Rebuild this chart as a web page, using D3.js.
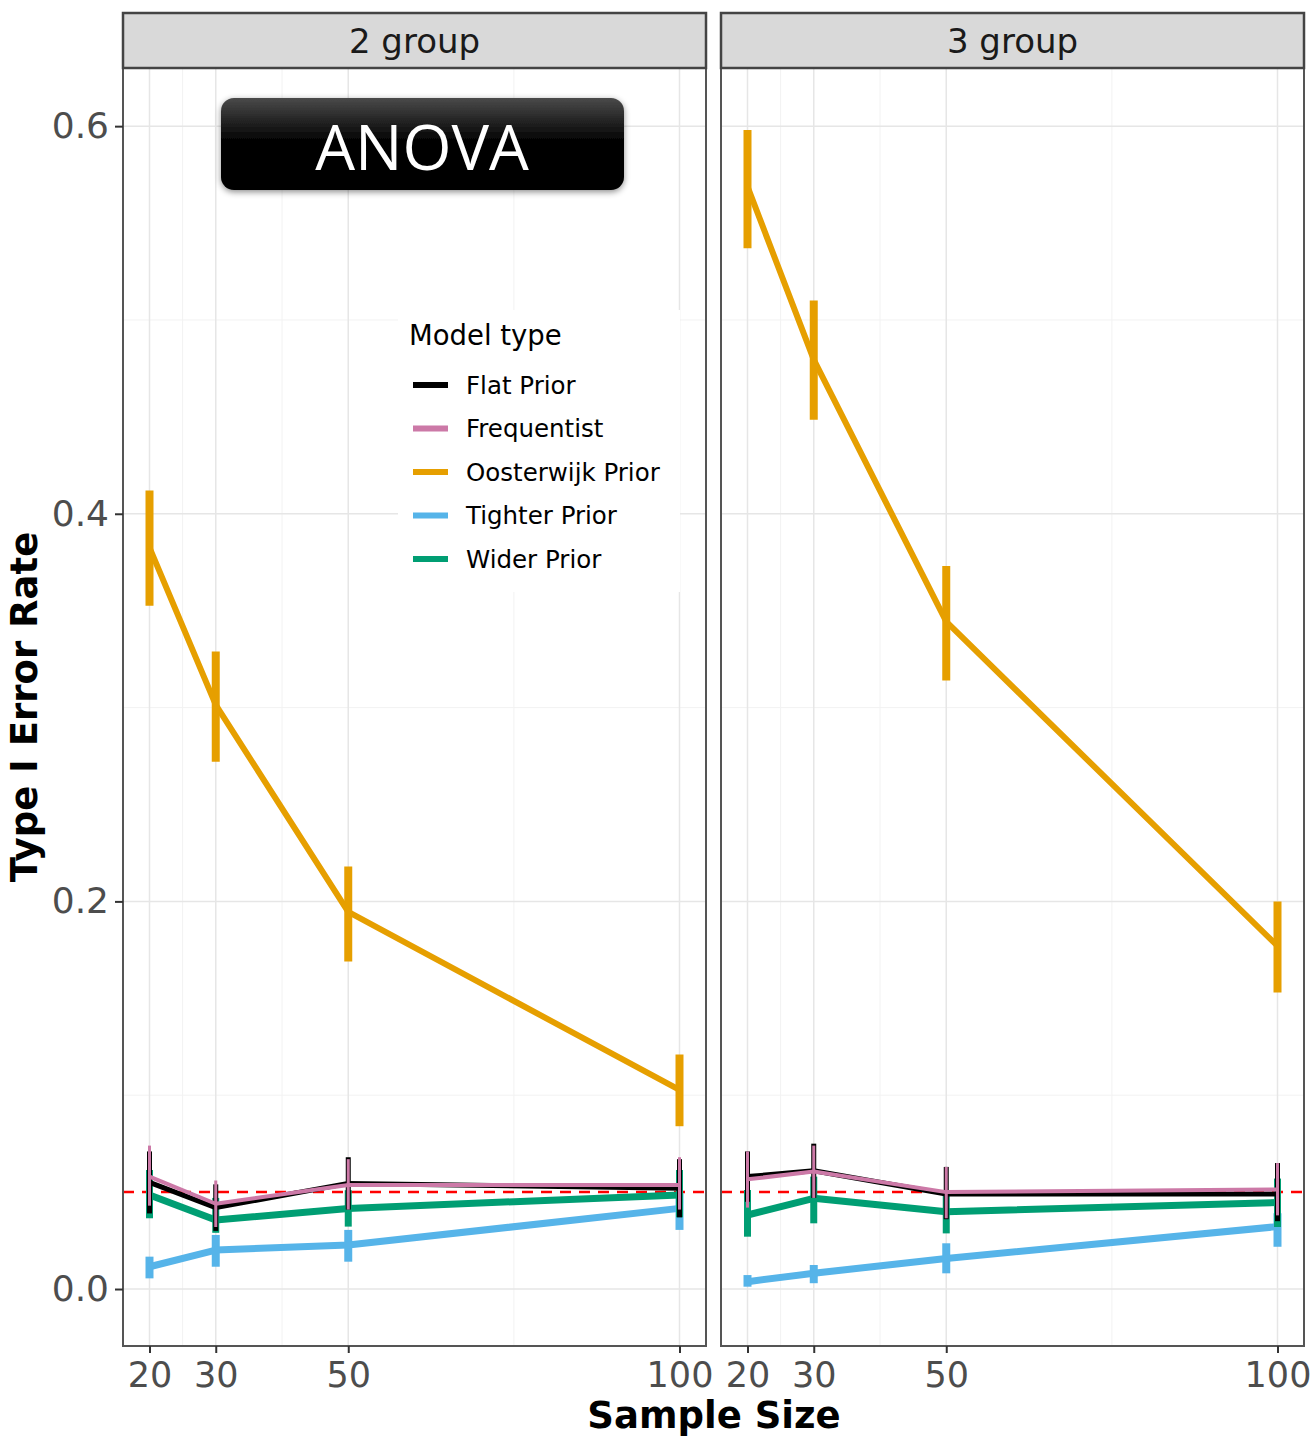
<!DOCTYPE html>
<html>
<head>
<meta charset="utf-8">
<script src="https://cdn.jsdelivr.net/npm/d3@7"></script>
<style>
  body { margin: 0; background: #fff; }
  svg text { font-family: "DejaVu Sans", sans-serif; }
</style>
</head>
<body>
<div id="chart"></div>
<script>
// data
var sampleSizes = [20, 30, 50, 100]
var groups = ["2 group", "3 group"]
var models = ["Flat Prior", "Frequentist", "Oosterwijk Prior", "Tighter Prior", "Wider Prior"]
var modelColors = ["#000000", "#CC79A7", "#E69F00", "#56B4E9", "#009E73"]
var yTicks = [0, 0.2, 0.4, 0.6]
var alphaLevel = 0.05

// each array: [2 group values, 3 group values], by sample size
var flatRate = [[0.055, 0.042, 0.0545, 0.052], [0.058, 0.061, 0.049, 0.049]]
var flatLow  = [[0.039, 0.030, 0.041, 0.037], [0.045, 0.047, 0.036, 0.035]]
var flatHigh = [[0.071, 0.054, 0.068, 0.067], [0.071, 0.075, 0.063, 0.065]]

var freqRate = [[0.058, 0.044, 0.0537, 0.0537], [0.0566, 0.0606, 0.050, 0.0514]]
var freqLow  = [[0.043, 0.032, 0.041, 0.041], [0.042, 0.047, 0.0365, 0.038]]
var freqHigh = [[0.074, 0.056, 0.067, 0.068], [0.071, 0.074, 0.063, 0.065]]

var oostRate = [[0.3825, 0.3014, 0.1946, 0.1027], [0.5688, 0.4795, 0.3443, 0.177]]
var oostLow  = [[0.3525, 0.272, 0.169, 0.084], [0.537, 0.4485, 0.314, 0.153]]
var oostHigh = [[0.412, 0.329, 0.218, 0.121], [0.598, 0.510, 0.373, 0.200]]

var tightRate = [[0.0115, 0.0201, 0.0227, 0.0416], [0.0038, 0.0081, 0.0158, 0.0322]]
var tightLow  = [[0.0055, 0.0115, 0.0141, 0.0305], [0.0012, 0.003, 0.0081, 0.0218]]
var tightHigh = [[0.0167, 0.0279, 0.0305, 0.0494], [0.0072, 0.0124, 0.0236, 0.0391]]

var widerRate = [[0.0485, 0.0356, 0.0416, 0.0485], [0.0382, 0.0468, 0.0399, 0.0446]]
var widerLow  = [[0.0365, 0.029, 0.0322, 0.037], [0.027, 0.0339, 0.0287, 0.032]]
var widerHigh = [[0.0614, 0.047, 0.051, 0.0614], [0.0511, 0.058, 0.0511, 0.057]]

var width = 1315, height = 1438

// series table built from the arrays above
var series = [
  {name: models[0], color: modelColors[0], rate: flatRate, low: flatLow, high: flatHigh, lw: 5, bw: 5},
  {name: models[1], color: modelColors[1], rate: freqRate, low: freqLow, high: freqHigh, lw: 4, bw: 3},
  {name: models[2], color: modelColors[2], rate: oostRate, low: oostLow, high: oostHigh, lw: 6, bw: 8},
  {name: models[3], color: modelColors[3], rate: tightRate, low: tightLow, high: tightHigh, lw: 7, bw: 8},
  {name: models[4], color: modelColors[4], rate: widerRate, low: widerLow, high: widerHigh, lw: 7, bw: 7}
]
// drawing order (later on top)
var drawOrder = [2, 3, 4, 0, 1]

var svg = d3.select("#chart").append("svg")
  .attr("width", width)
  .attr("height", height)

// panel geometry
var panelTop = 68, panelBottom = 1346, stripTop = 13
var panelX = [[123, 706], [721, 1304]]

var y = d3.scaleLinear().domain([-0.0294, 0.63]).range([panelBottom, panelTop])
var yMinor = [0.1, 0.3, 0.5]
var xMinor = [25, 40, 75]

groups.forEach(function(g, gi) {
  var x = d3.scaleLinear().domain([16, 104]).range(panelX[gi])
  var p = svg.append("g")

  p.append("rect")
    .attr("x", panelX[gi][0]).attr("y", panelTop)
    .attr("width", panelX[gi][1] - panelX[gi][0]).attr("height", panelBottom - panelTop)
    .attr("fill", "#fff")

  // minor grid
  p.selectAll(".ymin").data(yMinor).enter().append("line")
    .attr("x1", panelX[gi][0]).attr("x2", panelX[gi][1])
    .attr("y1", d => y(d)).attr("y2", d => y(d))
    .attr("stroke", "#f2f2f2").attr("stroke-width", 1)
  p.selectAll(".xmin").data(xMinor).enter().append("line")
    .attr("y1", panelTop).attr("y2", panelBottom)
    .attr("x1", d => x(d)).attr("x2", d => x(d))
    .attr("stroke", "#f2f2f2").attr("stroke-width", 1)
  // major grid
  p.selectAll(".ymaj").data(yTicks).enter().append("line")
    .attr("x1", panelX[gi][0]).attr("x2", panelX[gi][1])
    .attr("y1", d => y(d)).attr("y2", d => y(d))
    .attr("stroke", "#e6e6e6").attr("stroke-width", 1.5)
  p.selectAll(".xmaj").data(sampleSizes).enter().append("line")
    .attr("y1", panelTop).attr("y2", panelBottom)
    .attr("x1", d => x(d)).attr("x2", d => x(d))
    .attr("stroke", "#e6e6e6").attr("stroke-width", 1.5)

  // legend sits inside the left panel, under the data
  if (gi === 0) {
    var lg = p.append("g")
    lg.append("rect").attr("x", 398).attr("y", 310).attr("width", 282).attr("height", 282).attr("fill", "#fff")
    lg.append("text").attr("x", 409).attr("y", 345)
      .style("font-size", "27.5px").attr("fill", "#000").text("Model type")
    models.forEach(function(m, i) {
      var yy = 385 + i * 43.5
      lg.append("line").attr("x1", 413).attr("x2", 448).attr("y1", yy).attr("y2", yy)
        .attr("stroke", modelColors[i]).attr("stroke-width", 6)
      lg.append("text").attr("x", 466).attr("y", yy).attr("dy", "0.35em")
        .style("font-size", "24.5px").attr("fill", "#000").text(m)
    })
  }

  // reference line
  p.append("line")
    .attr("x1", panelX[gi][0]).attr("x2", panelX[gi][1])
    .attr("y1", y(alphaLevel)).attr("y2", y(alphaLevel))
    .attr("stroke", "#ff0000").attr("stroke-width", 2.5)
    .attr("stroke-dasharray", "11,8")

  drawOrder.forEach(function(si) {
    var s = series[si]
    var pts = sampleSizes.map(function(n, i) {
      return {n: n, r: s.rate[gi][i], lo: s.low[gi][i], hi: s.high[gi][i]}
    })
    p.selectAll(null).data(pts).enter().append("line")
      .attr("x1", d => x(d.n)).attr("x2", d => x(d.n))
      .attr("y1", d => y(d.lo)).attr("y2", d => y(d.hi))
      .attr("stroke", s.color).attr("stroke-width", s.bw)
    p.append("path").datum(pts)
      .attr("d", d3.line().x(d => x(d.n)).y(d => y(d.r)))
      .attr("fill", "none").attr("stroke", s.color)
      .attr("stroke-width", s.lw).attr("stroke-linejoin", "round")
  })

  // panel border
  p.append("rect")
    .attr("x", panelX[gi][0]).attr("y", panelTop)
    .attr("width", panelX[gi][1] - panelX[gi][0]).attr("height", panelBottom - panelTop)
    .attr("fill", "none").attr("stroke", "#555").attr("stroke-width", 2)

  // strip
  p.append("rect")
    .attr("x", panelX[gi][0]).attr("y", stripTop)
    .attr("width", panelX[gi][1] - panelX[gi][0]).attr("height", panelTop - stripTop)
    .attr("fill", "#d9d9d9").attr("stroke", "#444").attr("stroke-width", 2.5)
  p.append("text")
    .attr("x", (panelX[gi][0] + panelX[gi][1]) / 2).attr("y", (stripTop + panelTop) / 2)
    .attr("dy", "0.36em").attr("text-anchor", "middle")
    .style("font-size", "34px").attr("fill", "#1a1a1a").text(g)

  // x axis
  var xAxis = p.append("g").attr("transform", "translate(0," + panelBottom + ")")
    .call(d3.axisBottom(x).tickValues(sampleSizes).tickSize(7).tickPadding(9))
  xAxis.select(".domain").remove()
  xAxis.selectAll(".tick line").attr("stroke", "#333").attr("stroke-width", 2)
  xAxis.selectAll(".tick text").style("font-size", "35px").attr("fill", "#4d4d4d")
    .style("font-family", "DejaVu Sans")
})

// y axis (left panel only)
var yAxis = svg.append("g").attr("transform", "translate(" + panelX[0][0] + ",0)")
  .call(d3.axisLeft(y).tickValues(yTicks).tickFormat(d3.format(".1f")).tickSize(8).tickPadding(6))
yAxis.select(".domain").remove()
yAxis.selectAll(".tick line").attr("stroke", "#333").attr("stroke-width", 2)
yAxis.selectAll(".tick text").style("font-size", "36px").attr("fill", "#4d4d4d")
  .style("font-family", "DejaVu Sans")

// axis titles
svg.append("text")
  .attr("transform", "translate(37,707) rotate(-90)")
  .attr("text-anchor", "middle")
  .style("font-size", "37px").style("font-weight", "bold").attr("fill", "#000")
  .text("Type I Error Rate")
svg.append("text")
  .attr("x", 714).attr("y", 1428)
  .attr("text-anchor", "middle")
  .style("font-size", "37px").style("font-weight", "bold").attr("fill", "#000")
  .text("Sample Size")

// ANOVA badge
var defs = svg.append("defs")
var grad = defs.append("linearGradient").attr("id", "badgeGrad")
  .attr("x1", 0).attr("y1", 0).attr("x2", 0).attr("y2", 1)
grad.append("stop").attr("offset", "0%").attr("stop-color", "#4a4a4a")
grad.append("stop").attr("offset", "45%").attr("stop-color", "#050505")
grad.append("stop").attr("offset", "100%").attr("stop-color", "#000")
var shadow = defs.append("filter").attr("id", "badgeShadow")
  .attr("x", "-10%").attr("y", "-20%").attr("width", "120%").attr("height", "150%")
shadow.append("feDropShadow").attr("dx", 0).attr("dy", 2).attr("stdDeviation", 3)
  .attr("flood-color", "#000").attr("flood-opacity", 0.45)

svg.append("rect")
  .attr("x", 221).attr("y", 98).attr("width", 403).attr("height", 92)
  .attr("rx", 13).attr("ry", 13)
  .attr("fill", "url(#badgeGrad)").attr("filter", "url(#badgeShadow)")
svg.append("text")
  .attr("x", 422).attr("y", 170)
  .attr("text-anchor", "middle")
  .style("font-family", "'Open Sans', sans-serif").style("font-size", "63px")
  .attr("fill", "#fff")
  .text("ANOVA")
</script>
</body>
</html>
